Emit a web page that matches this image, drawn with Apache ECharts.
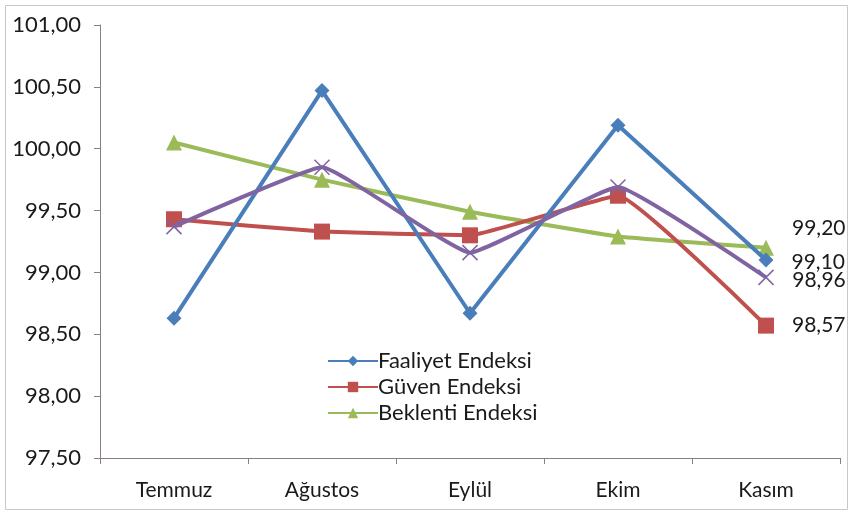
<!DOCTYPE html>
<html><head><meta charset="utf-8">
<script src="https://cdn.jsdelivr.net/npm/echarts@6/dist/echarts.min.js"></script>
<style>html,body{margin:0;padding:0;background:#fff}#c{width:852px;height:516px}</style>
</head><body><div id="c"></div>
<script>
const categories = ['Temmuz', 'Ağustos', 'Eylül', 'Ekim', 'Kasım'];
const faaliyet = [98.63, 100.47, 98.67, 100.19, 99.10];
const guven = [99.43, 99.33, 99.30, 99.62, 98.57];
const beklenti = [100.05, 99.75, 99.49, 99.29, 99.20];
const genel = [99.37, 99.85, 99.16, 99.69, 98.96];
const seriesNames = ['Faaliyet Endeksi', 'Güven Endeksi', 'Beklenti Endeksi', 'Genel'];

const FONT = 'Lato';
const TXT = '#1a1a1a';
const fmt = v => v.toFixed(2).replace('.', ',');
function withLastLabel(arr, offset) {
  return arr.map((v, i) => i === arr.length - 1 ? {
    value: v,
    label: { show: true, position: 'right', distance: 18, offset: offset || [0, 0],
      formatter: p => fmt(p.value), fontFamily: FONT, fontSize: 21, color: TXT }
  } : v);
}
const chart = echarts.init(document.getElementById('c'));
chart.setOption({
  animation: false,
  graphic: [{ type: 'rect', shape: { x: 5.5, y: 5.5, width: 842, height: 504 },
    style: { fill: 'none', stroke: '#c8c8c8', lineWidth: 1 } }],
  grid: { left: 100, right: 12, top: 25, bottom: 58 },
  legend: {
    data: seriesNames.slice(0, 3), orient: 'vertical', left: 322, top: 345,
    itemWidth: 50, itemHeight: 13, itemGap: 4,
    textStyle: { fontFamily: FONT, fontSize: 22, color: TXT, padding: [0, 0, 0, -5] }
  },
  xAxis: {
    type: 'category', data: categories, boundaryGap: true,
    axisLine: { lineStyle: { color: '#8a7f7f', width: 1 } },
    axisTick: { show: true, length: 6, lineStyle: { color: '#8a7f7f' } },
    axisLabel: { fontFamily: FONT, fontSize: 21, color: TXT, margin: 22 },
    splitLine: { show: false }
  },
  yAxis: {
    type: 'value', min: 97.5, max: 101, interval: 0.5,
    axisLine: { show: true, lineStyle: { color: '#8a7f7f', width: 1 } },
    axisTick: { show: true, inside: false, length: 6, lineStyle: { color: '#8a7f7f' } },
    axisLabel: { fontFamily: FONT, fontSize: 22, color: TXT, margin: 19, formatter: v => fmt(v) },
    splitLine: { show: false }
  },
  series: [
    { name: seriesNames[0], type: 'line', data: withLastLabel(faaliyet, [0, 2]),
      symbol: 'diamond', symbolSize: 15, color: '#4a7ebb',
      lineStyle: { width: 4, color: '#4a7ebb' }, itemStyle: { color: '#4a7ebb' }, z: 4 },
    { name: seriesNames[1], type: 'line', data: withLastLabel(guven, [0, 0]), smooth: 0.1,
      symbol: 'rect', symbolSize: 16, color: '#c0504d',
      lineStyle: { width: 4, color: '#c0504d' }, itemStyle: { color: '#c0504d' }, z: 3 },
    { name: seriesNames[2], type: 'line', data: withLastLabel(beklenti, [0, -19]), smooth: 0.1,
      symbol: 'triangle', symbolSize: 16, color: '#9bbb59',
      lineStyle: { width: 4, color: '#9bbb59' }, itemStyle: { color: '#9bbb59' }, z: 2 },
    { name: seriesNames[3], type: 'line', data: withLastLabel(genel, [0, 3]), smooth: 0.1,
      symbol: 'path://M0,0L10,10M10,0L0,10', symbolSize: 15, color: '#8064a2',
      lineStyle: { width: 4, color: '#8064a2' },
      itemStyle: { color: 'rgba(0,0,0,0)', borderColor: '#8064a2', borderWidth: 1.5 }, z: 5 }
  ]
});
</script></body></html>
